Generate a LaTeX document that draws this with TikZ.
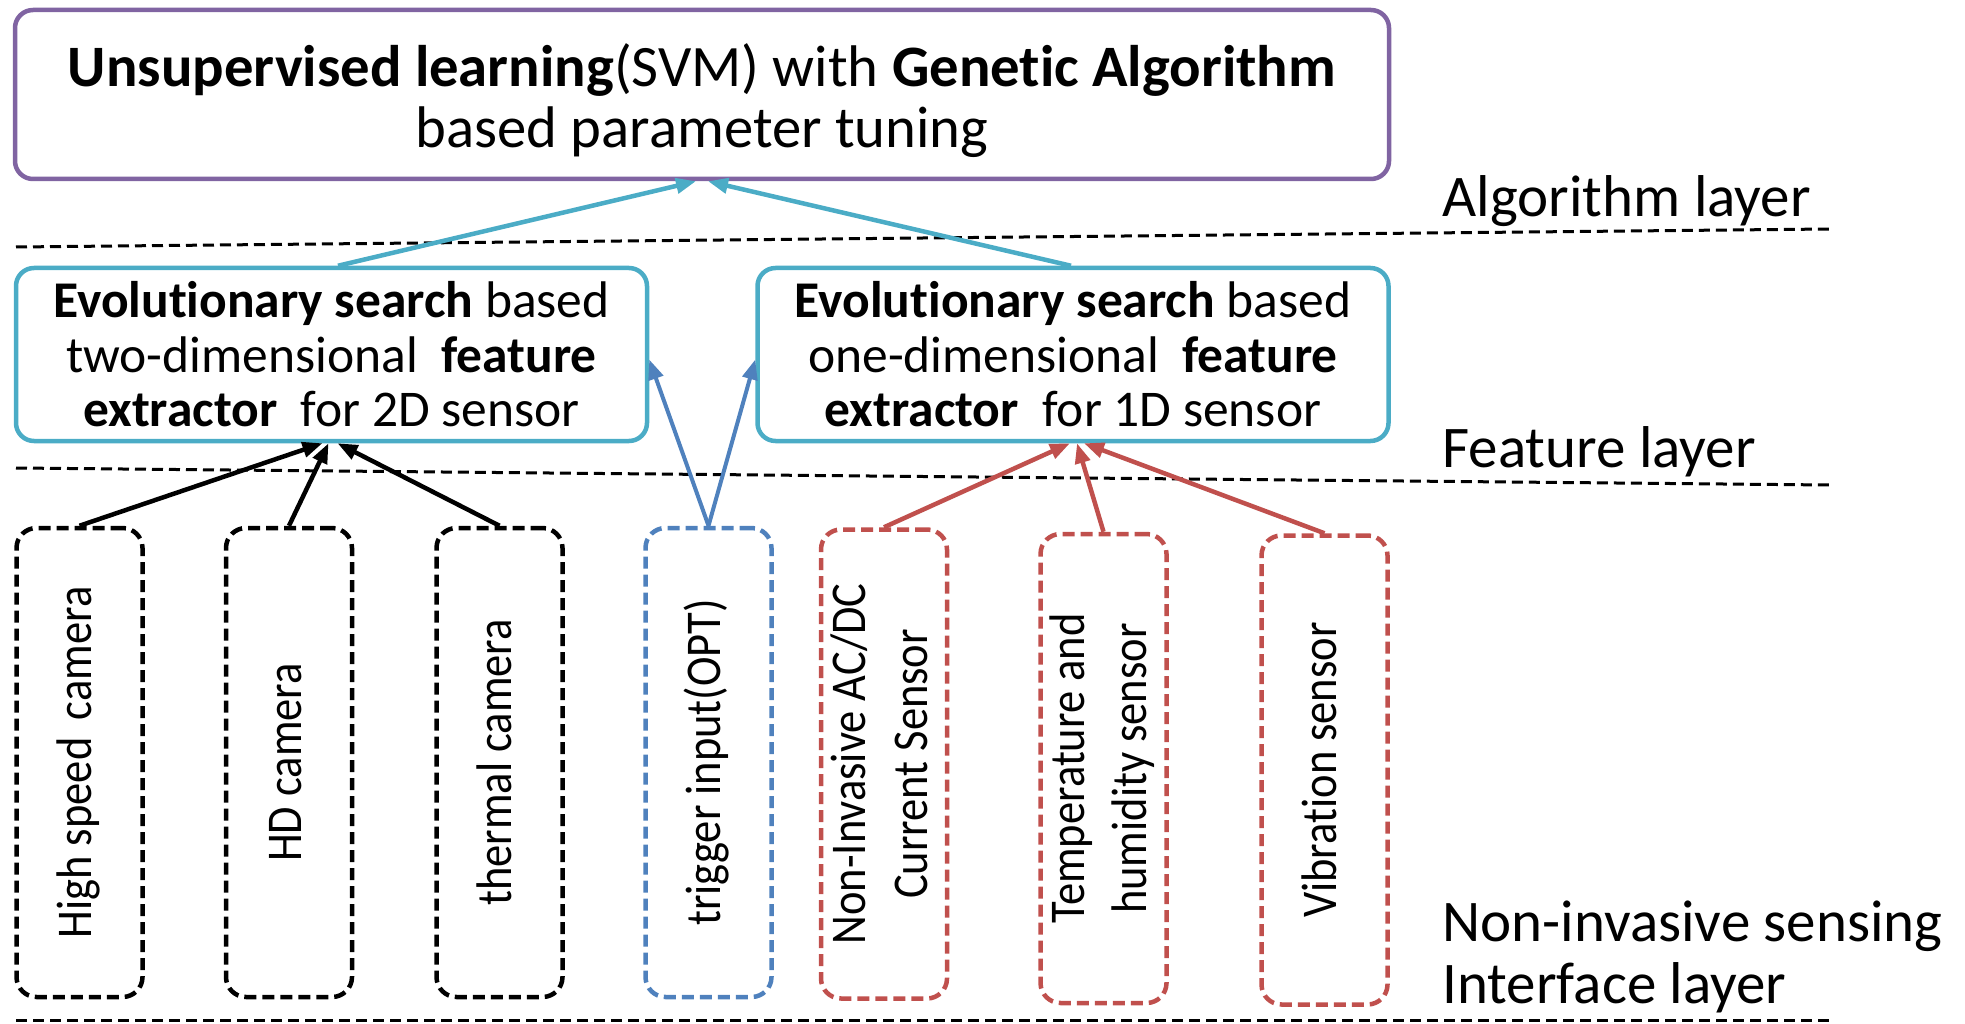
\documentclass[tikz,border=0pt]{standalone}
\usepackage{fontspec}
\usepackage{graphicx}
\setmainfont{Carlito}[Ligatures=NoCommon]
\newfontfamily\sensorfont{Carlito}[FakeStretch=0.89,Ligatures=NoCommon]
\usetikzlibrary{arrows.meta,calc}

\definecolor{algpurple}{HTML}{8064A2}
\definecolor{featcyan}{HTML}{4BACC6}
\definecolor{trigblue}{HTML}{4F81BD}
\definecolor{sensred}{HTML}{C0504D}

\newcommand{\sensorlabel}[1]{\rotatebox{90}{\begin{tabular}{@{}c@{}}#1\end{tabular}}}

\begin{document}
\begin{tikzpicture}[x=1pt,y=-1pt,
  algbox/.style={draw=algpurple, line width=4.5pt, rounded corners=18pt,
    minimum width=1374pt, minimum height=169pt, align=center, inner sep=0pt,
    font=\fontsize{58.7}{61}\selectfont},
  featbox/.style={draw=featcyan, line width=4.5pt, rounded corners=18pt,
    minimum width=631pt, minimum height=173pt, align=center, inner sep=0pt,
    font=\fontsize{51.5}{54.5}\selectfont},
  sensorbox/.style={line width=4.5pt, dash pattern=on 12pt off 6pt,
    rounded corners=20pt, minimum width=126pt, minimum height=469pt,
    inner sep=0pt, font=\sensorfont\fontsize{50}{62}\selectfont},
  layerline/.style={line width=3pt, dash pattern=on 11pt off 6pt},
  layerlabel/.style={anchor=base west, font=\fontsize{59}{62}\selectfont},
  link/.style={line width=4.5pt, -{Triangle[length=20pt,width=15pt]}}
]
\useasboundingbox (0,0) rectangle (1965,1024);

% layer separators
\draw[layerline] (16,247) -- (1830,229);
\draw[layerline] (16,468) -- (1830,485);
\draw[layerline] (16,1020) -- (1830,1020);

% algorithm layer
\node[algbox] (top) at (702,94.5)
  {\rule{0pt}{56pt}\textbf{Unsupervised learning}(SVM) with \textbf{Genetic Algorithm}\\
   based parameter tuning};

% feature layer
\node[featbox] (fl) at (331.5,354.5)
  {\textbf{Evolutionary search} based\\
   two-dimensional\ \ \textbf{feature}\\
   \textbf{extractor}\ \ for 2D sensor};
\node[featbox] (fr) at (1073,354.5)
  {\textbf{Evolutionary search} based\\
   one-dimensional\ \ \textbf{feature}\\
   \textbf{extractor}\ \ for 1D sensor};

% sensing interface layer
\node[sensorbox, draw=black] (s1) at (79.5,762.5) {\sensorlabel{High speed\hspace{0.15em} camera}};
\node[sensorbox, draw=black] (s2) at (289,762.5) {\sensorlabel{HD camera}};
\node[sensorbox, draw=black] (s3) at (499.5,762.5) {\sensorlabel{thermal camera}};
\node[sensorbox, draw=trigblue] (s4) at (708.5,762.5) {\sensorlabel{trigger input(OPT)}};
\node[sensorbox, draw=sensred] (s5) at (884,764) {\sensorlabel{Non-Invasive AC/DC\\Current Sensor}};
\node[sensorbox, draw=sensred] (s6) at (1103.5,768.5) {\sensorlabel{Temperature and\\humidity sensor}};
\node[sensorbox, draw=sensred] (s7) at (1324.5,770) {\sensorlabel{Vibration sensor}};

% layer names
\node[layerlabel] (lalg) at (1439,217) {Algorithm layer};
\node[layerlabel] (lfeat) at (1439,467) {Feature layer};
\node[layerlabel] (lsens) at (1439,941) {Non-invasive sensing};
\node[layerlabel] (lintf) at (1439,1003) {Interface layer};

% feature extractors to learning block
\draw[link, featcyan] ($(fl.north)+(6.5,0)$) -- ($(top.south)+(-6,0)$);
\draw[link, featcyan] ($(fr.north)+(-2,0)$) -- ($(top.south)+(6,0)$);

% 2D sensors
\draw[link, black] (s1.north) -- ($(fl.south)+(-9,0)$);
\draw[link, black] (s2.north) -- ($(fl.south)+(-3,0)$);
\draw[link, black] (s3.north) -- ($(fl.south)+(6,0)$);

% trigger input feeds both extractors
\draw[link, trigblue, line width=4pt] (s4.north) -- ($(fl.east)+(0,5)$);
\draw[link, trigblue, line width=4pt] (s4.north) -- ($(fr.west)+(0,5)$);

% 1D sensors
\draw[link, sensred] (s5.north) -- ($(fr.south)+(-3,0)$);
\draw[link, sensred] (s6.north) -- ($(fr.south)+(4,0)$);
\draw[link, sensred] (s7.north) -- ($(fr.south)+(11,0)$);
\end{tikzpicture}
\end{document}
